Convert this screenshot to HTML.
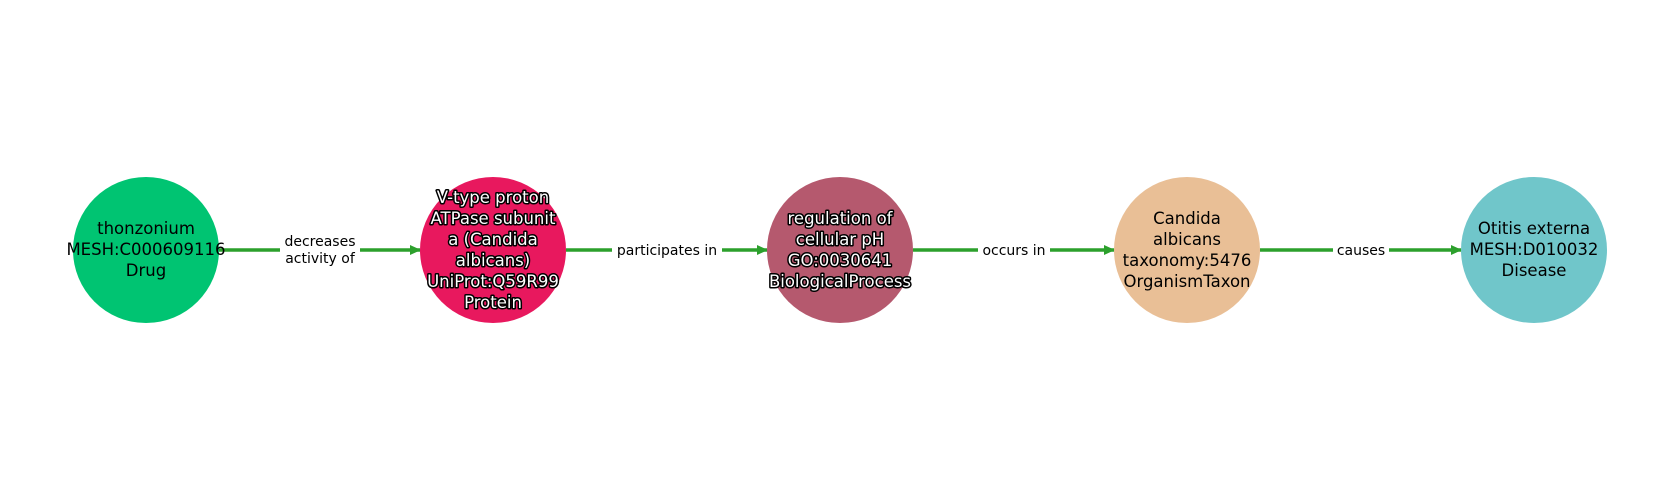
<!DOCTYPE html>
<html><head><meta charset="utf-8"><style>html,body{margin:0;padding:0;background:#fff}svg{display:block}</style></head>
<body>
<svg width="1680" height="500" viewBox="0 0 1680 500" xmlns="http://www.w3.org/2000/svg" font-family="DejaVu Sans, Liberation Sans, sans-serif">
<defs><marker id="a" markerWidth="11" markerHeight="10" refX="10" refY="5" orient="auto" markerUnits="userSpaceOnUse"><path d="M0,0 L11,5 L0,10 Z" fill="#2ca02c"/></marker></defs>
<g stroke="#2ca02c" stroke-width="3.5" fill="none">
<line x1="219" y1="250" x2="420" y2="250" marker-end="url(#a)"/>
<line x1="566" y1="250" x2="767" y2="250" marker-end="url(#a)"/>
<line x1="913" y1="250" x2="1114" y2="250" marker-end="url(#a)"/>
<line x1="1260" y1="250" x2="1461" y2="250" marker-end="url(#a)"/>
</g>
<g font-size="14" text-anchor="middle" fill="#000">
<rect x="280" y="231" width="80" height="38" fill="#fff"/>
<text x="320" y="246">decreases</text><text x="320" y="263">activity of</text>
<rect x="612" y="240" width="110" height="20" fill="#fff"/>
<text x="667" y="255">participates in</text>
<rect x="978" y="240" width="72" height="20" fill="#fff"/>
<text x="1014" y="255">occurs in</text>
<rect x="1333" y="240" width="56" height="20" fill="#fff"/>
<text x="1361" y="255">causes</text>
</g>
<circle cx="146" cy="250" r="73" fill="#00c472"/>
<circle cx="493" cy="250" r="73" fill="#e8185e"/>
<circle cx="840" cy="250" r="73" fill="#b5596e"/>
<circle cx="1187" cy="250" r="73" fill="#e9bf96"/>
<circle cx="1534" cy="250" r="73" fill="#70c6ca"/>
<g font-size="16.5" text-anchor="middle" fill="#000">
<text x="146" y="234">thonzonium</text><text x="146" y="255">MESH:C000609116</text><text x="146" y="276">Drug</text>
<text x="1187" y="224">Candida</text><text x="1187" y="245">albicans</text><text x="1187" y="266">taxonomy:5476</text><text x="1187" y="287">OrganismTaxon</text>
<text x="1534" y="234">Otitis externa</text><text x="1534" y="255">MESH:D010032</text><text x="1534" y="276">Disease</text>
</g>
<g font-size="16.5" text-anchor="middle" fill="#fff" stroke="#000" stroke-width="3" paint-order="stroke" stroke-linejoin="round">
<text x="493" y="203">V-type proton</text><text x="493" y="224">ATPase subunit</text><text x="493" y="245">a (Candida</text><text x="493" y="266">albicans)</text><text x="493" y="287">UniProt:Q59R99</text><text x="493" y="308">Protein</text>
<text x="840" y="224">regulation of</text><text x="840" y="245">cellular pH</text><text x="840" y="266">GO:0030641</text><text x="840" y="287">BiologicalProcess</text>
</g>
</svg>
</body></html>
